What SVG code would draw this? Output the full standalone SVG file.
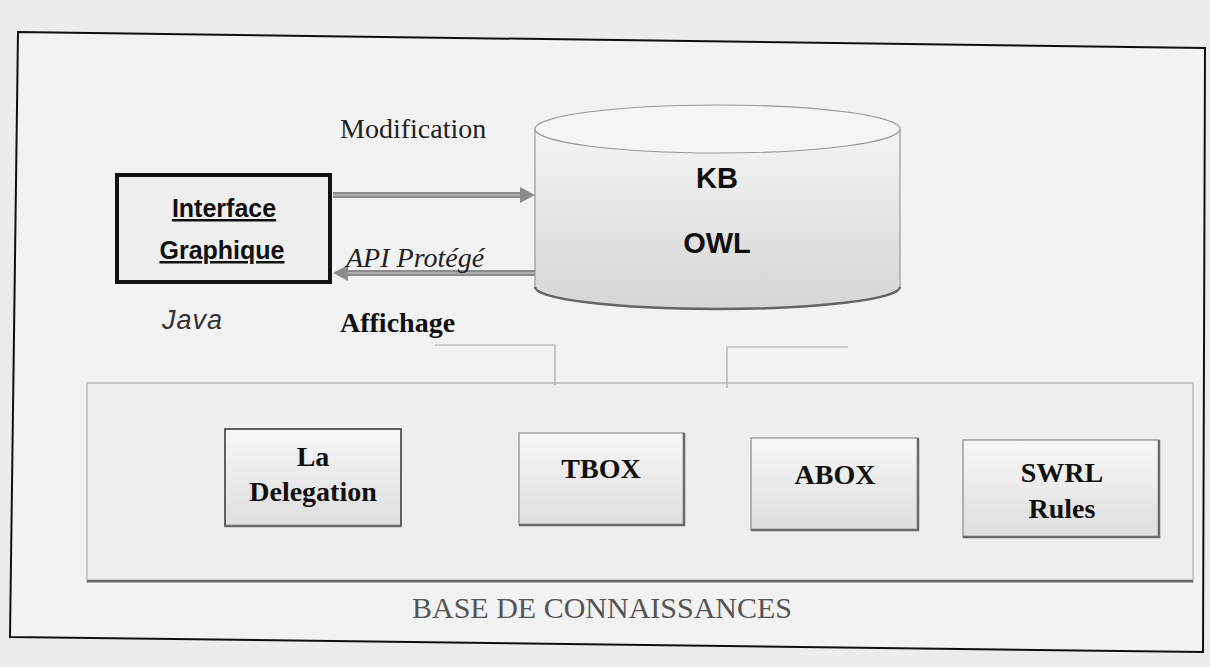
<svg xmlns="http://www.w3.org/2000/svg" width="1210" height="667" viewBox="0 0 1210 667">
<defs>
<style>
.serif{font-family:"Liberation Serif","Times New Roman",serif;}
.sans{font-family:"Liberation Sans",Arial,sans-serif;}
.bx{stroke:#8a8a8a;stroke-width:1.2;fill:url(#boxg);}
.sh{stroke:#6a6a6a;stroke-width:2.5;fill:none;}
.lbl{font-family:"Liberation Serif","Times New Roman",serif;font-weight:bold;font-size:28px;fill:#111;text-anchor:middle;}
.faint{stroke:#a8a8a8;stroke-width:1.2;fill:none;}
.arr{stroke:#8c8c8c;stroke-width:6;fill:none;}
.arri{stroke:#b8b8b8;stroke-width:1.5;fill:none;}
.head{fill:#8c8c8c;}
</style>
<linearGradient id="boxg" x1="0" y1="0" x2="0" y2="1">
<stop offset="0" stop-color="#f7f7f7"/>
<stop offset="1" stop-color="#dedede"/>
</linearGradient>
<linearGradient id="cylg" x1="0" y1="0" x2="0" y2="1">
<stop offset="0" stop-color="#f4f4f4"/>
<stop offset="1" stop-color="#d6d6d6"/>
</linearGradient>
</defs>
<rect x="0" y="0" width="1210" height="667" fill="#ececec"/>
<polygon points="18,32 1205,48 1203,652 10,637" fill="#f2f2f2" stroke="#111" stroke-width="2"/>

<g id="base">
<rect x="87" y="383" width="1106" height="199" fill="#eeeeee" stroke="#b0b0b0" stroke-width="1.2"/>
<line x1="87" y1="581" x2="1193" y2="581" class="sh" stroke-width="2"/>
<text x="412" y="618" class="serif" font-size="30" fill="#555">BASE DE CONNAISSANCES</text>
</g>

<g id="faint-lines">
<polyline points="435,345 555,345 555,385" class="faint"/>
<polyline points="727,388 727,347 848,347" class="faint"/>
</g>

<g id="interface">
<rect x="117" y="175" width="213" height="107" fill="#efefef" stroke="#111" stroke-width="4"/>
<text x="224" y="217" class="sans" font-size="25" font-weight="bold" fill="#111" text-anchor="middle" text-decoration="underline">Interface</text>
<text x="222" y="259" class="sans" font-size="25" font-weight="bold" fill="#111" text-anchor="middle" text-decoration="underline">Graphique</text>
<text x="162" y="329" class="sans" font-size="27" font-style="italic" fill="#333" letter-spacing="1">Java</text>
</g>

<g id="kb">
<path d="M535,129 L535,287 A182.5,22 0 0 0 900,287 L900,129" fill="url(#cylg)" stroke="#999" stroke-width="1.2"/>
<path d="M535,287 A182.5,22 0 0 0 900,287" fill="none" stroke="#666" stroke-width="2.5"/>
<ellipse cx="717.5" cy="129" rx="182.5" ry="24" fill="#f5f5f5" stroke="#999" stroke-width="1.2"/>
<text x="717" y="188" class="sans" font-size="29" font-weight="bold" fill="#111" text-anchor="middle">KB</text>
<text x="717" y="253" class="sans" font-size="29" font-weight="bold" fill="#111" text-anchor="middle">OWL</text>
</g>

<g id="connectors">
<line x1="333" y1="195" x2="522" y2="195" class="arr"/>
<line x1="333" y1="195" x2="522" y2="195" class="arri"/>
<path d="M520,187 L535,195 L520,203 Z" class="head"/>
<line x1="535" y1="273" x2="346" y2="273" class="arr"/>
<line x1="535" y1="273" x2="346" y2="273" class="arri"/>
<path d="M348,265 L333,273 L348,281 Z" class="head"/>
<text x="340" y="138" class="serif" font-size="28" fill="#222">Modification</text>
<text x="346" y="267" class="serif" font-size="28" font-style="italic" fill="#222">API Protégé</text>
<text x="340" y="332" class="serif" font-size="28" font-weight="bold" fill="#111">Affichage</text>
</g>

<g id="delegation">
<rect x="225" y="429" width="176" height="97" fill="url(#boxg)" stroke="#333" stroke-width="1.5"/>
<line x1="225" y1="526" x2="401" y2="526" class="sh"/>
<text x="313" y="466" class="lbl">La</text>
<text x="313" y="501" class="lbl">Delegation</text>
</g>

<g id="tbox">
<rect x="519" y="433" width="165" height="92" class="bx"/>
<polyline points="519,525 684,525 684,433" class="sh"/>
<text x="601" y="478" class="lbl">TBOX</text>
</g>

<g id="abox">
<rect x="751" y="438" width="167" height="92" class="bx"/>
<polyline points="751,530 918,530 918,438" class="sh"/>
<text x="835" y="484" class="lbl">ABOX</text>
</g>

<g id="swrl">
<rect x="963" y="440" width="196" height="97" class="bx"/>
<polyline points="963,537 1159,537 1159,440" class="sh"/>
<text x="1062" y="482" class="lbl">SWRL</text>
<text x="1062" y="518" class="lbl">Rules</text>
</g>
</svg>
